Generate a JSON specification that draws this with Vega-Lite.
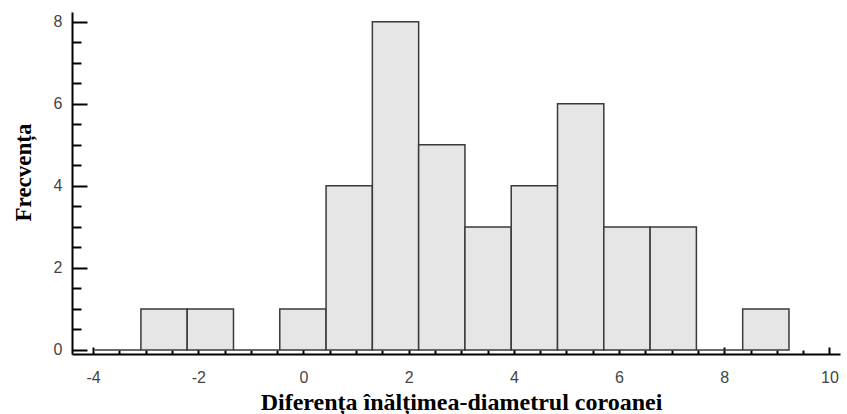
{
  "$schema": "https://vega.github.io/schema/vega-lite/v6.json",
  "autosize": {"type": "none"},
  "padding": {"left": 72, "top": 12, "right": 7, "bottom": 60},
  "width": 768,
  "height": 342,
  "background": "white",
  "data": {"values": [
    {"x0": -3.97, "x1": -3.09, "n": 0},
    {"x0": -3.09, "x1": -2.21, "n": 1},
    {"x0": -2.21, "x1": -1.33, "n": 1},
    {"x0": -1.33, "x1": -0.45, "n": 0},
    {"x0": -0.45, "x1": 0.43, "n": 1},
    {"x0": 0.43, "x1": 1.31, "n": 4},
    {"x0": 1.31, "x1": 2.19, "n": 8},
    {"x0": 2.19, "x1": 3.07, "n": 5},
    {"x0": 3.07, "x1": 3.95, "n": 3},
    {"x0": 3.95, "x1": 4.83, "n": 4},
    {"x0": 4.83, "x1": 5.71, "n": 6},
    {"x0": 5.71, "x1": 6.59, "n": 3},
    {"x0": 6.59, "x1": 7.47, "n": 3},
    {"x0": 7.47, "x1": 8.35, "n": 0},
    {"x0": 8.35, "x1": 9.23, "n": 1}
  ]},
  "mark": {"type": "rect", "fill": "#e6e6e6", "stroke": "#3a3a3a", "strokeWidth": 1.5},
  "encoding": {
    "x": {
      "field": "x0", "type": "quantitative",
      "scale": {"domain": [-4.4, 10.2], "nice": false, "zero": false},
      "axis": {
        "title": "Diferența înălțimea-diametrul coroanei",
        "titleFont": "Liberation Serif", "titleFontSize": 24, "titleFontWeight": "bold", "titleColor": "#000",
        "titleX": 389, "titleY": 48, "titleAlign": "center", "titleBaseline": "middle",
        "values": [-4,-3.5,-3,-2.5,-2,-1.5,-1,-0.5,0,0.5,1,1.5,2,2.5,3,3.5,4,4.5,5,5.5,6,6.5,7,7.5,8,8.5,9,9.5,10],
        "labelExpr": "datum.value % 2 === 0 ? '' + datum.value : ''",
        "labelFont": "Liberation Sans", "labelFontSize": 16, "labelColor": "#444",
        "labelPadding": 22,
        "labelFlush": false, "labelOverlap": false,
        "domainColor": "#000", "domainWidth": 2,
        "tickColor": "#000", "tickWidth": 2,
        "tickSize": {"condition": {"test": "datum.value % 2 === 0", "value": -7}, "value": -4},
        "grid": false
      }
    },
    "x2": {"field": "x1"},
    "y": {
      "field": "n", "type": "quantitative",
      "scale": {"domain": [-0.1, 8.24], "nice": false, "zero": false},
      "axis": {
        "title": "Frecvența",
        "titleFont": "Liberation Serif", "titleFontSize": 23, "titleFontWeight": "bold", "titleColor": "#000",
        "titleX": -49, "titleY": 160, "titleAlign": "center", "titleBaseline": "middle", "titleAngle": -90,
        "values": [0,0.5,1,1.5,2,2.5,3,3.5,4,4.5,5,5.5,6,6.5,7,7.5,8],
        "labelExpr": "datum.value % 2 === 0 ? '' + datum.value : ''",
        "labelFont": "Liberation Sans", "labelFontSize": 16, "labelColor": "#444",
        "labelPadding": 25,
        "labelOverlap": false, "labelFlush": false,
        "domainColor": "#000", "domainWidth": 2,
        "tickColor": "#000", "tickWidth": 2,
        "tickSize": {"condition": {"test": "datum.value % 2 === 0", "value": -15}, "value": -9},
        "grid": false
      }
    },
    "y2": {"datum": 0}
  },
  "config": {"view": {"stroke": null}}
}
